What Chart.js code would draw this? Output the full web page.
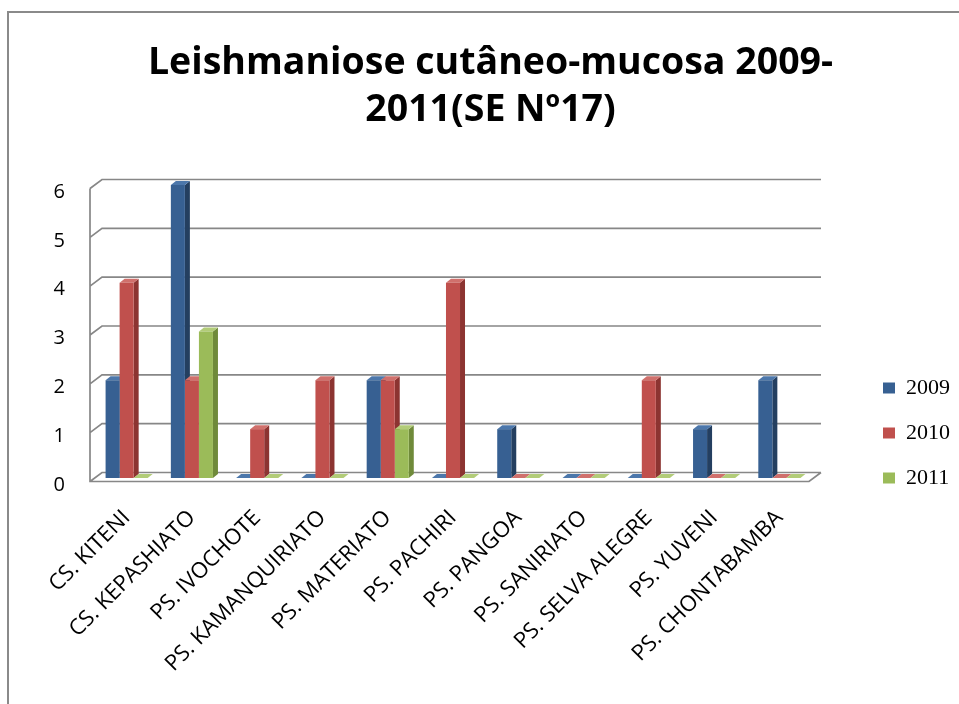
<!DOCTYPE html>
<html>
<head>
<meta charset="utf-8">
<script src="https://cdn.jsdelivr.net/npm/chart.js@4.4.1/dist/chart.umd.min.js"></script>
<style>
  html, body { margin: 0; padding: 0; background: #fff; }
  canvas { display: block; }
</style>
</head>
<body>
<canvas id="chart" width="959" height="704"></canvas>
<script>
// data
const categories = ['CS. KITENI', 'CS. KEPASHIATO', 'PS. IVOCHOTE', 'PS. KAMANQUIRIATO', 'PS. MATERIATO',
  'PS. PACHIRI', 'PS. PANGOA', 'PS. SANIRIATO', 'PS. SELVA ALEGRE', 'PS. YUVENI', 'PS. CHONTABAMBA'];
const seriesNames = ['2009', '2010', '2011'];
const cases2009 = [2, 6, 0, 0, 2, 0, 1, 0, 0, 1, 2];
const cases2010 = [4, 2, 1, 2, 2, 4, 0, 0, 2, 0, 0];
const cases2011 = [0, 3, 0, 0, 1, 0, 0, 0, 0, 0, 0];
const yMin = 0, yMax = 6, yStep = 1;

// excel 3d look: front / side / top faces
const frontColors = ['#376092', '#C0504D', '#9BBB59'];
const sideColors = ['#243f60', '#8c3431', '#6f8a3a'];
const topColors = ['#4c77ab', '#d0706c', '#b2cc78'];

function poly(c, pts) {
  c.beginPath();
  c.moveTo(pts[0][0], pts[0][1]);
  for (let i = 1; i < pts.length; i++) c.lineTo(pts[i][0], pts[i][1]);
  c.closePath();
  c.fill();
}

//walls, floor and the fake depth of the bars
const walls3d = {
  id: 'walls3d',
  afterLayout(chart) {
    // legend sits lower and a bit further right than chart.js puts it
    const lg = chart.legend;
    lg.top += 81; lg.bottom += 81;
    lg.left += 1; lg.right += 1;
  },
  beforeDraw(chart) {
    const c = chart.ctx;
    c.save();
    c.strokeStyle = '#8a8a8a';
    c.lineWidth = 2;
    c.beginPath();
    c.moveTo(8, chart.height);
    c.lineTo(8, 12);
    c.lineTo(chart.width, 12);
    c.stroke();
    c.restore();
  },
  beforeDatasetsDraw(chart) {
    const c = chart.ctx, ys = chart.scales.y, a = chart.chartArea;
    const fx0 = a.left - 4, fx1 = a.right - 3, bx0 = a.left + 8, bx1 = a.right + 9;
    const p0 = ys.getPixelForValue(yMin), pTop = ys.getPixelForValue(yMax);
    c.save();
    c.strokeStyle = '#878787';
    c.lineWidth = 1.7;
    c.beginPath();
    ys.ticks.forEach(t => {
      const p = ys.getPixelForValue(t.value);
      c.moveTo(fx0, p + 3.5);
      c.lineTo(bx0, p - 5.5);
      c.lineTo(bx1, p - 5.5);
    });
    c.moveTo(fx0, pTop + 3.5);
    c.lineTo(fx0, p0 + 3.5);
    c.lineTo(fx1, p0 + 3.5);
    c.lineTo(bx1, p0 - 5.5);
    c.stroke();

    chart.data.datasets.forEach((ds, i) => {
      chart.getDatasetMeta(i).data.forEach(bar => {
        const {x, y, base, width} = bar.getProps(['x', 'y', 'base', 'width'], true);
        const l = x - width / 2, r = x + width / 2;
        if (base - y > 0.5) {
          c.fillStyle = sideColors[i];
          poly(c, [[r, y], [r + 5, y - 4], [r + 5, base - 4], [r, base]]);
        }
        c.fillStyle = topColors[i];
        poly(c, [[l, y], [l + 5, y - 4], [r + 5, y - 4], [r, y]]);
      });
    });
    c.restore();
  }
};

const series = [cases2009, cases2010, cases2011];

new Chart(document.querySelector('#chart').getContext('2d'), {
  type: 'bar',
  data: {
    labels: categories,
    datasets: series.map((vals, i) => ({
      label: seriesNames[i],
      data: vals,
      backgroundColor: frontColors[i],
      borderWidth: 0,
      categoryPercentage: 0.645,
      barPercentage: 1.0
    }))
  },
  options: {
    responsive: false,
    animation: false,
    layout: { padding: { left: 22, right: 0, top: 0, bottom: 0 } },
    plugins: {
      title: {
        display: true,
        text: ['Leishmaniose cutâneo-mucosa 2009-', '2011(SE Nº17)'],
        color: '#000',
        font: { family: 'Open Sans', weight: 'bold', size: 37.5, lineHeight: 1.253 },
        padding: { top: 40, bottom: 51 }
      },
      legend: {
        position: 'right',
        labels: {
          boxWidth: 12,
          boxHeight: 11,
          padding: 23,
          color: '#000',
          font: { family: 'Liberation Serif', size: 22 }
        }
      },
      tooltip: { enabled: false }
    },
    scales: {
      x: {
        grid: { display: false, drawTicks: false },
        border: { display: false },
        ticks: {
          autoSkip: false,
          minRotation: 45,
          maxRotation: 45,
          padding: 27,
          color: '#000',
          font: { family: 'Open Sans', size: 22 }
        },
        afterFit(s) { s.height = 226; }
      },
      y: {
        min: yMin,
        max: yMax,
        grid: { display: false, drawTicks: false },
        border: { display: false },
        ticks: {
          stepSize: yStep,
          padding: 29,
          labelOffset: 7,
          color: '#000',
          font: { family: 'Open Sans', size: 20 }
        },
        afterFit(s) { s.width = 72; }
      },
      yR: {
        position: 'right',
        display: true,
        grid: { display: false, drawTicks: false },
        border: { display: false },
        ticks: { display: false },
        afterFit(s) { s.width = 47; }
      }
    }
  },
  plugins: [walls3d]
});
</script>
</body>
</html>
